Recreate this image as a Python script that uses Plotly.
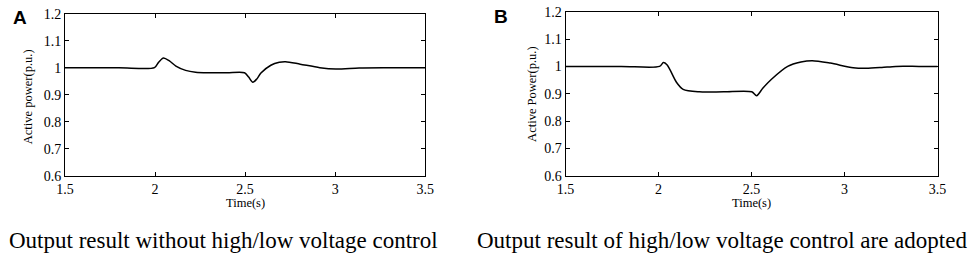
import plotly.graph_objects as go

# Panel A: without high/low voltage control
time_a = [1.5, 1.8, 1.997, 2.02, 2.047, 2.08, 2.116, 2.17, 2.225, 2.3, 2.4, 2.497, 2.52, 2.543, 2.565, 2.588,
          2.643, 2.69, 2.725, 2.806, 2.915, 3.004, 3.133, 3.277, 3.35, 3.5]
power_a = [1.0, 1.0, 1.0, 1.02, 1.036, 1.025, 1.006, 0.99, 0.983, 0.981, 0.981, 0.981, 0.965, 0.946, 0.958, 0.98,
           1.009, 1.02, 1.022, 1.013, 1.0, 0.995, 0.999, 1.0, 1.0, 1.0]

# Panel B: high/low voltage control adopted
time_b = [1.5, 1.8, 2.005, 2.026, 2.045, 2.061, 2.096, 2.132, 2.219, 2.35, 2.501, 2.527, 2.56, 2.607, 2.694,
          2.765, 2.826, 2.923, 3.046, 3.116, 3.2, 3.275, 3.4, 3.5]
power_b = [1.0, 1.0, 1.0, 1.014, 1.006, 0.988, 0.942, 0.916, 0.907, 0.907, 0.907, 0.893, 0.92, 0.953, 1.0,
           1.016, 1.021, 1.012, 0.995, 0.993, 0.996, 1.0, 1.0, 1.0]

x_ticks = [1.5, 2, 2.5, 3, 3.5]
x_ticklabels = ["1.5", "2", "2.5", "3", "3.5"]
y_ticks = [0.6, 0.7, 0.8, 0.9, 1.0, 1.1, 1.2]
y_ticklabels = ["0.6", "0.7", "0.8", "0.9", "1", "1.1", "1.2"]

serif = "Liberation Serif, Times New Roman, serif"
sans = "Liberation Sans, Arial, sans-serif"

fig = go.Figure()
fig.add_trace(go.Scatter(x=time_a, y=power_a, mode="lines", line=dict(color="black", width=1.5, shape="spline", smoothing=0.8),
                         xaxis="x", yaxis="y", showlegend=False))
fig.add_trace(go.Scatter(x=time_b, y=power_b, mode="lines", line=dict(color="black", width=1.5, shape="spline", smoothing=0.8),
                         xaxis="x2", yaxis="y2", showlegend=False))

W, H = 979, 262
axA = dict(x0=57, x1=424, y0=7, y1=179)
axB = dict(x0=567, x1=946, y0=5, y1=179)

def xaxis(dom, anchor):
    return dict(domain=[dom["x0"] / W, dom["x1"] / W], anchor=anchor, range=[1.5, 3.5],
                tickvals=x_ticks, ticktext=x_ticklabels, ticks="inside", ticklen=4, tickcolor="black",
                showline=True, linecolor="black", linewidth=1, mirror="ticks", showgrid=False, zeroline=False,
                ticklabeloverflow="allow", ticklabelstandoff=0,
                tickfont=dict(family=serif, size=14, color="black"))

def yaxis(dom, anchor):
    return dict(domain=[1 - dom["y1"] / H, 1 - dom["y0"] / H], anchor=anchor, range=[0.6, 1.2],
                tickvals=y_ticks, ticktext=y_ticklabels, ticks="inside", ticklen=4, tickcolor="black",
                showline=True, linecolor="black", linewidth=1, mirror="ticks", showgrid=False, zeroline=False,
                ticklabeloverflow="allow",
                tickfont=dict(family=serif, size=14, color="black"))

def note(text, x, y, size, family=serif, angle=0, xanchor="center"):
    return dict(text=text, x=x / W, y=1 - y / H, xref="paper", yref="paper", xanchor=xanchor, yanchor="middle",
                textangle=angle, showarrow=False, borderpad=0, font=dict(family=family, size=size, color="black"))

annotations = [
    note("<b>A</b>", 11.5, 11, 19, family=sans),
    note("<b>B</b>", 501.5, 10, 19, family=sans),
    note("Time(s)", (axA["x0"] + axA["x1"]) / 2, 208, 12.5),
    note("Time(s)", (axB["x0"] + axB["x1"]) / 2, 208, 12.5),
    note("Active power(p.u.)", 19, 95, 12.5, angle=-90),
    note("Active Power(p.u.)", 532, 93, 12.5, angle=-90),
    note("Output result without high/low voltage control", 219, 248, 23),
    note("Output result of high/low voltage control are adopted", 726, 248, 23),
]

fig.update_layout(
    width=W, height=H, margin=dict(l=0, r=0, t=0, b=0),
    paper_bgcolor="white", plot_bgcolor="white",
    xaxis=xaxis(axA, "y"), yaxis=yaxis(axA, "x"),
    xaxis2=xaxis(axB, "y2"), yaxis2=yaxis(axB, "x2"),
    annotations=annotations,
)

fig.write_html("out.html", config={"displayModeBar": False}, post_script="document.body.style.margin='0';")
